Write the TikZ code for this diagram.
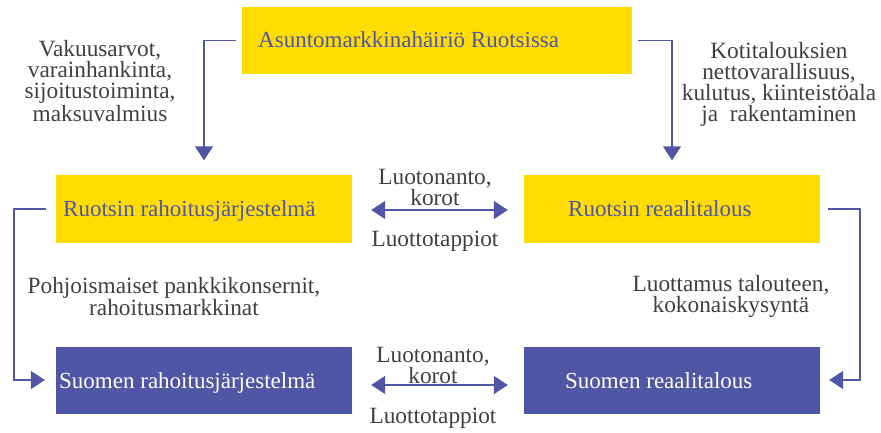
\documentclass[tikz,border=0pt]{standalone}
\usepackage{fontspec}
\setmainfont{Liberation Serif}
\usetikzlibrary{arrows.meta}
\definecolor{bkyellow}{RGB}{255,221,0}
\definecolor{bkblue}{RGB}{79,86,165}
\definecolor{bkgray}{RGB}{64,64,64}
\tikzset{
  box/.style={draw=none, minimum width=296pt, minimum height=67pt, inner sep=0pt},
  ybox/.style={box, fill=bkyellow},
  pbox/.style={box, fill=bkblue},
  boxtext/.style={anchor=base west, inner sep=0pt, font=\fontsize{23}{26}\selectfont},
  lbl/.style={align=center, text=bkgray, inner sep=0pt, font=\fontsize{23.3}{21}\selectfont},
  conn/.style={draw=bkblue, line width=1.6pt, -{Triangle[length=14pt,width=18pt]}},
  dconn/.style={draw=bkblue, line width=1.6pt, {Triangle[length=14pt,width=18pt]}-{Triangle[length=14pt,width=18pt]}}
}
\begin{document}
\begin{tikzpicture}[x=1pt,y=-1pt]
\useasboundingbox (0,0) rectangle (881,433);
% boxes
\node[ybox, minimum width=390pt] (top) at (437,40.5) {};
\node[ybox] (rr) at (204,209) {};
\node[pbox] (sr) at (204,380.5) {};
\node[ybox] (rre) at (672,209) {};
\node[pbox] (sre) at (672,380.5) {};
% box texts
\node[boxtext, text=bkblue] (ttop) at (258,48) {Asuntomarkkinahäiriö Ruotsissa};
\node[boxtext, text=bkblue] (trr) at (63,216.5) {Ruotsin rahoitusjärjestelmä};
\node[boxtext, text=white] (tsr) at (59,388) {Suomen rahoitusjärjestelmä};
\node[boxtext, text=bkblue] (trre) at (568,216.5) {Ruotsin reaalitalous};
\node[boxtext, text=white] (tsre) at (565,388) {Suomen reaalitalous};
% labels
\node[lbl] (l1) at (100,81) {Vakuusarvot,\\varainhankinta,\\sijoitustoiminta,\\maksuvalmius};
\node[lbl] (l2) at (779,84) {Kotitalouksien\\nettovarallisuus,\\kulutus, kiinteistöala\\ja\ \ rakentaminen};
\node[lbl] (l3) at (174,296.5) {Pohjoismaiset pankkikonsernit,\\rahoitusmarkkinat};
\node[lbl] (l4) at (731,296.5) {Luottamus talouteen,\\kokonaiskysyntä};
\node[lbl] (m1) at (435,187) {Luotonanto,\\korot};
\node[lbl] (m2) at (435,241) {Luottotappiot};
\node[lbl] (m3) at (433,365) {Luotonanto,\\korot};
\node[lbl] (m4) at (433,418.5) {Luottotappiot};
% connectors
\draw[conn] ([xshift=-6pt]top.west) -| ([yshift=15pt]rr.north);
\draw[conn] ([xshift=6pt]top.east) -| ([yshift=15pt]rre.north);
\draw[conn] ([xshift=-10pt]rr.west) -- ++(-32,0) |- ([xshift=-11pt,yshift=0.5pt]sr.west);
\draw[conn] ([xshift=8pt]rre.east) -- ++(32,0) |- ([xshift=9pt,yshift=0.5pt]sre.east);
\draw[dconn] ([xshift=19pt,yshift=-1pt]rr.east) -- ([xshift=-16pt,yshift=-1pt]rre.west);
\draw[dconn] ([xshift=19pt,yshift=-4.5pt]sr.east) -- ([xshift=-16pt,yshift=-4.5pt]sre.west);
\end{tikzpicture}
\end{document}
